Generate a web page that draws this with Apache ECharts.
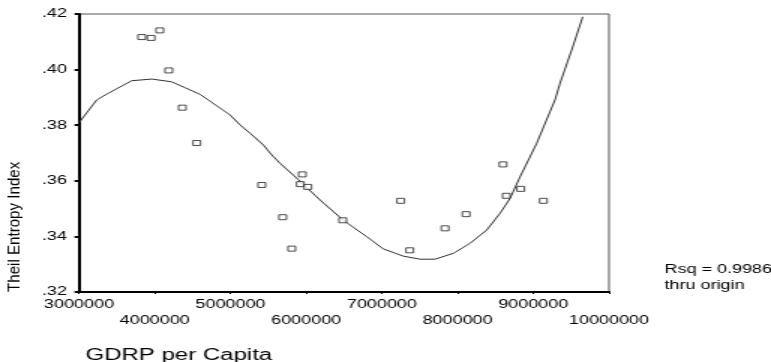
<!DOCTYPE html>
<html>
<head>
<meta charset="utf-8">
<script src="https://cdn.jsdelivr.net/npm/echarts@6/dist/echarts.min.js"></script>
<style>
  html, body { margin: 0; padding: 0; background: #fff; overflow: hidden; }
  /* the original plot is stretched sideways, so draw narrow and widen it */
  #chart { width: 514px; height: 362px; transform: scaleX(1.5); transform-origin: 0 0; }
</style>
</head>
<body>
<div id="chart"></div>
<script>
  // observed points
  var gdrp = [3828000, 3951000, 4066000, 4185000, 4364000, 4555000, 5413000, 5690000, 5809000, 5949000, 5923000,
              6021000, 6483000, 7249000, 7368000, 7834000, 8112000, 8600000, 8644000, 8834000, 9133000];
  var theil = [0.4117, 0.4114, 0.4141, 0.3997, 0.3863, 0.3736, 0.3585, 0.3469, 0.3356, 0.3623, 0.3588,
               0.3578, 0.3458, 0.3528, 0.3350, 0.3429, 0.3480, 0.3659, 0.3546, 0.3571, 0.3528];

  // fitted curve
  var fitX = [3000000, 3234000, 3366000, 3696000, 3960000, 4224000, 4400000, 4598000, 4994000, 5127000, 5259000,
              5434000, 5545000, 5655000, 5889000, 6183000, 6491000, 6800000, 7019000, 7283000, 7504000, 7702000,
              7944000, 8164000, 8385000, 8561000, 8693000, 8825000, 9045000, 9287000, 9353000, 9508000, 9653000];
  var fitY = [0.3809, 0.3891, 0.3912, 0.3960, 0.3966, 0.3956, 0.3935, 0.3911, 0.3837, 0.3801, 0.3771,
              0.3729, 0.3693, 0.3663, 0.3606, 0.3531, 0.3458, 0.3399, 0.3355, 0.3329, 0.3318, 0.3318,
              0.3339, 0.3375, 0.3423, 0.3483, 0.3537, 0.3614, 0.3735, 0.3891, 0.3951, 0.4071, 0.4190];

  // axis ticks
  var xTicks = [3000000, 4000000, 5000000, 6000000, 7000000, 8000000, 9000000, 10000000];
  var yTicks = [0.32, 0.34, 0.36, 0.38, 0.40, 0.42];
  var yTickLabels = ['.32', '.34', '.36', '.38', '.40', '.42'];

  var points = gdrp.map(function (x, i) { return [x, theil[i]]; });
  var curve = fitX.map(function (x, i) { return [x, fitY[i]]; });

  var font = 'Liberation Sans, Arial, sans-serif';

  var option = {
    animation: false,
    backgroundColor: '#fff',
    grid: {
      left: 52.7, right: 108, top: 14, bottom: 70,
      show: true, borderColor: '#555', borderWidth: 1
    },
    title: [
      {
        text: 'GDRP per Capita', left: 52, top: 343,
        textStyle: { fontFamily: font, fontSize: 16, fontWeight: 'normal', color: '#000' }
      },
      {
        text: 'Rsq = 0.9986\nthru origin', left: 438, top: 257,
        textStyle: { fontFamily: font, fontSize: 12, fontWeight: 'normal', color: '#000', lineHeight: 16 }
      }
    ],
    graphic: [
      {
        // y axis title, squeezed like the source
        type: 'text', x: 10, y: 292, rotation: Math.PI / 2, scaleX: 1.26, scaleY: 0.85,
        style: { text: 'Theil Entropy Index', fontFamily: font, fontSize: 12, fill: '#000',
                 textAlign: 'left', textVerticalAlign: 'middle' }
      }
    ],
    xAxis: {
      type: 'value',
      min: xTicks[0], max: xTicks[xTicks.length - 1], interval: 1000000,
      splitLine: { show: false },
      axisLine: { lineStyle: { color: '#000', width: 2 } },
      axisTick: { length: 2, lineStyle: { color: '#000', width: 1 } },
      axisLabel: {
        margin: 5, fontFamily: font, fontSize: 12, color: '#000', lineHeight: 16,
        formatter: function (v) {
          // every other label drops to a second row
          var k = xTicks.indexOf(v);
          return k % 2 === 1 ? '\n' + v : String(v);
        }
      }
    },
    yAxis: {
      type: 'value',
      min: yTicks[0], max: yTicks[yTicks.length - 1], interval: 0.02,
      splitLine: { show: false },
      axisLine: { lineStyle: { color: '#000', width: 2 } },
      axisTick: { length: 3, lineStyle: { color: '#000', width: 2 } },
      axisLabel: {
        margin: 8, fontFamily: font, fontSize: 12, color: '#000',
        formatter: function (v) {
          var k = yTicks.findIndex(function (t) { return Math.abs(t - v) < 1e-9; });
          return k >= 0 ? yTickLabels[k] : '';
        }
      }
    },
    series: [
      {
        type: 'line', data: curve, showSymbol: false, smooth: false,
        lineStyle: { color: '#333', width: 1 }, z: 2
      },
      {
        type: 'scatter', data: points, symbol: 'rect', symbolSize: 5,
        itemStyle: { color: '#fff', borderColor: '#222', borderWidth: 1 }, z: 3
      }
    ]
  };

  var getchart = echarts.init(document.getElementById('chart'));
  getchart.setOption(option);
</script>
</body>
</html>
